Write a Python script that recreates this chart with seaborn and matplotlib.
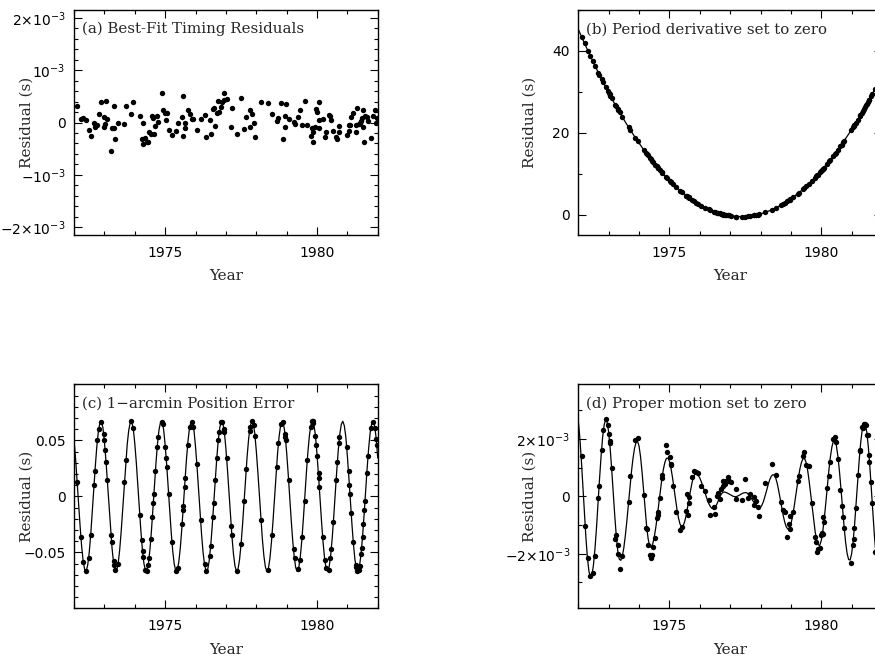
import numpy as np
import matplotlib
matplotlib.use('Agg')
import matplotlib.pyplot as plt
import seaborn as sns
from matplotlib.ticker import MultipleLocator, FixedLocator, FixedFormatter

# observation epochs (decimal year), same TOAs in all four panels
obs_year = [
    1972.11, 1972.23, 1972.31, 1972.40, 1972.48, 1972.55, 1972.66, 1972.69, 1972.77, 1972.81,
    1972.90, 1972.98, 1973.00, 1973.03, 1973.06, 1973.10, 1973.22, 1973.24, 1973.30, 1973.32,
    1973.36, 1973.45, 1973.66, 1973.71, 1973.88, 1973.95, 1974.17, 1974.23, 1974.26, 1974.28,
    1974.35, 1974.39, 1974.44, 1974.47, 1974.53, 1974.58, 1974.61, 1974.63, 1974.68, 1974.74,
    1974.77, 1974.89, 1974.92, 1975.01, 1975.04, 1975.06, 1975.12, 1975.23, 1975.36, 1975.42,
    1975.56, 1975.59, 1975.60, 1975.64, 1975.66, 1975.74, 1975.81, 1975.89, 1975.93, 1976.05,
    1976.17, 1976.30, 1976.35, 1976.47, 1976.50, 1976.57, 1976.60, 1976.65, 1976.70, 1976.75,
    1976.78, 1976.84, 1976.88, 1976.94, 1976.95, 1977.03, 1977.18, 1977.20, 1977.38, 1977.50,
    1977.60, 1977.67, 1977.78, 1977.80, 1977.85, 1977.91, 1977.96, 1978.16, 1978.38, 1978.52,
    1978.67, 1978.73, 1978.81, 1978.87, 1978.95, 1978.96, 1978.97, 1979.07, 1979.23, 1979.26,
    1979.39, 1979.44, 1979.51, 1979.59, 1979.68, 1979.79, 1979.84, 1979.86, 1979.88, 1979.95,
    1979.98, 1980.01, 1980.05, 1980.06, 1980.08, 1980.19, 1980.26, 1980.30, 1980.38, 1980.44,
    1980.47, 1980.54, 1980.63, 1980.67, 1980.72, 1980.74, 1980.98, 1981.04, 1981.07, 1981.09,
    1981.13, 1981.20, 1981.28, 1981.29, 1981.33, 1981.37, 1981.40, 1981.45, 1981.47, 1981.50,
    1981.53, 1981.56, 1981.58, 1981.64, 1981.68, 1981.77, 1981.86, 1981.91, 1981.95, 1981.97,
]

# (a) best-fit residuals, in ms
res_a_ms = [
    0.31, 0.06, 0.08, 0.05, -0.15, -0.25, 0.00, -0.08, -0.04, 0.17,
    0.39, 0.10, -0.08, -0.03, 0.42, 0.06, -0.54, -0.10, -0.10, 0.32,
    -0.32, 0.00, -0.03, 0.31, 0.17, 0.40, 0.12, -0.32, -0.01, -0.41,
    -0.30, -0.38, -0.38, -0.19, -0.21, 0.12, 0.08, -0.22, -0.06, 0.13,
    0.01, 0.57, 0.23, 0.19, 0.04, 0.19, -0.15, -0.23, -0.17, -0.01,
    0.10, 0.51, -0.26, -0.10, -0.01, 0.24, 0.17, 0.06, 0.06, -0.15,
    0.06, 0.14, -0.28, 0.04, -0.22, 0.26, 0.28, -0.06, 0.18, 0.41,
    0.21, 0.29, 0.40, 0.56, 0.44, 0.45, -0.08, 0.28, -0.21, 0.46,
    -0.12, 0.10, -0.08, 0.23, 0.16, -0.01, -0.28, 0.40, 0.38, 0.17,
    0.02, 0.08, 0.38, -0.32, 0.13, -0.08, 0.35, 0.06, 0.01, -0.03,
    0.10, 0.24, -0.05, 0.42, -0.04, -0.26, -0.11, -0.38, -0.19, -0.08,
    0.26, 0.21, -0.10, 0.40, 0.05, 0.06, -0.27, -0.19, 0.14, 0.12,
    0.04, -0.16, -0.28, -0.31, -0.06, -0.19, -0.24, -0.04, -0.17, -0.04,
    0.11, 0.19, -0.04, -0.18, 0.27, -0.03, -0.01, 0.02, 0.08, -0.08,
    0.23, -0.38, 0.13, 0.10, 0.02, -0.30, 0.12, 0.24, -0.01, 0.08,
]

# (b) period derivative set to zero, in s
res_b_s = [
    43.4, 41.9, 40.1, 38.7, 37.5, 36.4, 34.7, 34.2, 33.1, 32.5,
    31.2, 30.1, 29.8, 29.4, 29.0, 28.4, 26.8, 26.5, 25.7, 25.5,
    25.0, 23.8, 21.3, 20.7, 18.8, 18.0, 15.7, 15.1, 14.8, 14.6,
    13.9, 13.5, 13.1, 12.8, 12.2, 11.8, 11.5, 11.3, 10.9, 10.4,
    10.2, 9.2, 8.9, 8.3, 8.0, 7.9, 7.5, 6.7, 5.8, 5.5,
    4.6, 4.5, 4.4, 4.2, 4.1, 3.6, 3.3, 2.9, 2.7, 2.2,
    1.7, 1.3, 1.1, 0.7, 0.7, 0.5, 0.4, 0.3, 0.2, 0.1,
    0.0, -0.1, -0.1, -0.2, -0.2, -0.3, -0.5, -0.5, -0.5, -0.5,
    -0.4, -0.3, -0.2, -0.2, -0.1, 0.0, 0.1, 0.6, 1.2, 1.7,
    2.3, 2.5, 2.9, 3.2, 3.6, 3.6, 3.7, 4.2, 5.1, 5.3,
    6.2, 6.5, 7.0, 7.5, 8.2, 9.0, 9.4, 9.6, 9.7, 10.3,
    10.6, 10.8, 11.2, 11.2, 11.4, 12.4, 13.1, 13.4, 14.2, 14.8,
    15.1, 15.8, 16.7, 17.1, 17.7, 17.9, 20.6, 21.3, 21.6, 21.9,
    22.4, 23.2, 24.2, 24.3, 24.8, 25.4, 25.7, 26.4, 26.7, 27.1,
    27.5, 27.9, 28.1, 29.0, 29.5, 30.8, 32.0, 32.8, 33.4, 33.6,
]

# (c) 1-arcmin position error, in s
res_c_s = [
    0.0126, -0.0359, -0.0587, -0.0667, -0.0554, -0.0341, 0.0105, 0.0227, 0.0503, 0.0597,
    0.0667, 0.0554, 0.0503, 0.0411, 0.0304, 0.0146, -0.0341, -0.0411, -0.0577, -0.0615,
    -0.0662, -0.0606, 0.0126, 0.0323, 0.0670, 0.0606, -0.0167, -0.0394, -0.0488, -0.0542,
    -0.0658, -0.0667, -0.0615, -0.0554, -0.0377, -0.0187, -0.0063, 0.0021, 0.0227, 0.0443,
    0.0529, 0.0667, 0.0643, 0.0443, 0.0341, 0.0266, 0.0021, -0.0411, -0.0667, -0.0637,
    -0.0247, -0.0126, -0.0084, 0.0084, 0.0167, 0.0459, 0.0623, 0.0665, 0.0623, 0.0285,
    -0.0207, -0.0606, -0.0665, -0.0529, -0.0443, -0.0187, -0.0063, 0.0146, 0.0341, 0.0503,
    0.0577, 0.0662, 0.0667, 0.0597, 0.0577, 0.0341, -0.0266, -0.0341, -0.0665, -0.0427,
    -0.0042, 0.0247, 0.0587, 0.0623, 0.0670, 0.0637, 0.0542, -0.0207, -0.0662, -0.0341,
    0.0266, 0.0474, 0.0643, 0.0667, 0.0554, 0.0529, 0.0503, 0.0146, -0.0474, -0.0554,
    -0.0649, -0.0566, -0.0359, -0.0042, 0.0323, 0.0623, 0.0670, 0.0670, 0.0658, 0.0542,
    0.0459, 0.0359, 0.0207, 0.0167, 0.0084, -0.0359, -0.0566, -0.0637, -0.0654, -0.0554,
    -0.0474, -0.0227, 0.0146, 0.0304, 0.0474, 0.0529, 0.0443, 0.0227, 0.0105, 0.0021,
    -0.0146, -0.0411, -0.0615, -0.0633, -0.0670, -0.0658, -0.0623, -0.0516, -0.0459, -0.0359,
    -0.0247, -0.0126, -0.0042, 0.0207, 0.0359, 0.0606, 0.0665, 0.0606, 0.0516, 0.0459,
]

# (d) proper motion set to zero, in ms
res_d_ms = [
    1.40, -1.02, -2.15, -2.76, -2.68, -2.07, -0.07, 0.36, 1.61, 2.30,
    2.70, 2.48, 2.16, 1.87, 1.94, 1.00, -1.48, -1.33, -2.00, -1.70,
    -2.52, -2.08, -0.19, 0.72, 1.96, 2.02, 0.06, -1.12, -1.14, -1.71,
    -2.04, -2.14, -2.06, -1.76, -1.44, -0.74, -0.53, -0.66, -0.06, 0.64,
    0.74, 1.78, 1.55, 1.36, 1.08, 1.12, 0.37, -0.54, -1.16, -1.06,
    -0.51, 0.07, -0.64, -0.23, -0.02, 0.69, 0.88, 0.84, 0.81, 0.36,
    0.19, -0.12, -0.64, -0.37, -0.61, 0.01, 0.10, -0.11, 0.24, 0.54,
    0.35, 0.43, 0.53, 0.66, 0.53, 0.49, -0.09, 0.27, -0.12, 0.59,
    -0.05, 0.08, -0.29, -0.01, -0.15, -0.38, -0.67, 0.45, 1.11, 0.73,
    -0.20, -0.49, -0.56, -1.42, -0.97, -1.15, -0.69, -0.54, 0.54, 0.70,
    1.39, 1.56, 1.08, 1.04, -0.24, -1.42, -1.58, -1.94, -1.82, -1.79,
    -1.35, -1.27, -1.32, -0.73, -0.90, 0.29, 0.72, 1.18, 1.98, 2.05,
    1.90, 1.29, 0.21, -0.32, -0.72, -1.10, -2.33, -1.70, -1.49, -1.11,
    -0.40, 0.73, 1.60, 1.59, 2.42, 2.38, 2.53, 2.53, 2.48, 2.15,
    2.15, 1.20, 1.44, 0.50, -0.24, -1.93, -2.43, -2.48, -2.71, -2.50,
]

# model curves, every 0.05 yr
fit_year = [
    1972.00, 1972.05, 1972.10, 1972.15, 1972.20, 1972.25, 1972.30, 1972.35, 1972.40, 1972.45,
    1972.50, 1972.55, 1972.60, 1972.65, 1972.70, 1972.75, 1972.80, 1972.85, 1972.90, 1972.95,
    1973.00, 1973.05, 1973.10, 1973.15, 1973.20, 1973.25, 1973.30, 1973.35, 1973.40, 1973.45,
    1973.50, 1973.55, 1973.60, 1973.65, 1973.70, 1973.75, 1973.80, 1973.85, 1973.90, 1973.95,
    1974.00, 1974.05, 1974.10, 1974.15, 1974.20, 1974.25, 1974.30, 1974.35, 1974.40, 1974.45,
    1974.50, 1974.55, 1974.60, 1974.65, 1974.70, 1974.75, 1974.80, 1974.85, 1974.90, 1974.95,
    1975.00, 1975.05, 1975.10, 1975.15, 1975.20, 1975.25, 1975.30, 1975.35, 1975.40, 1975.45,
    1975.50, 1975.55, 1975.60, 1975.65, 1975.70, 1975.75, 1975.80, 1975.85, 1975.90, 1975.95,
    1976.00, 1976.05, 1976.10, 1976.15, 1976.20, 1976.25, 1976.30, 1976.35, 1976.40, 1976.45,
    1976.50, 1976.55, 1976.60, 1976.65, 1976.70, 1976.75, 1976.80, 1976.85, 1976.90, 1976.95,
    1977.00, 1977.05, 1977.10, 1977.15, 1977.20, 1977.25, 1977.30, 1977.35, 1977.40, 1977.45,
    1977.50, 1977.55, 1977.60, 1977.65, 1977.70, 1977.75, 1977.80, 1977.85, 1977.90, 1977.95,
    1978.00, 1978.05, 1978.10, 1978.15, 1978.20, 1978.25, 1978.30, 1978.35, 1978.40, 1978.45,
    1978.50, 1978.55, 1978.60, 1978.65, 1978.70, 1978.75, 1978.80, 1978.85, 1978.90, 1978.95,
    1979.00, 1979.05, 1979.10, 1979.15, 1979.20, 1979.25, 1979.30, 1979.35, 1979.40, 1979.45,
    1979.50, 1979.55, 1979.60, 1979.65, 1979.70, 1979.75, 1979.80, 1979.85, 1979.90, 1979.95,
    1980.00, 1980.05, 1980.10, 1980.15, 1980.20, 1980.25, 1980.30, 1980.35, 1980.40, 1980.45,
    1980.50, 1980.55, 1980.60, 1980.65, 1980.70, 1980.75, 1980.80, 1980.85, 1980.90, 1980.95,
    1981.00, 1981.05, 1981.10, 1981.15, 1981.20, 1981.25, 1981.30, 1981.35, 1981.40, 1981.45,
    1981.50, 1981.55, 1981.60, 1981.65, 1981.70, 1981.75, 1981.80, 1981.85, 1981.90, 1981.95,
    1982.00,
]

fit_b_s = [
    45.30, 44.44, 43.60, 42.76, 41.94, 41.12, 40.30, 39.50, 38.70, 37.92,
    37.14, 36.36, 35.60, 34.84, 34.10, 33.36, 32.62, 31.90, 31.18, 30.48,
    29.78, 29.08, 28.40, 27.72, 27.06, 26.40, 25.74, 25.10, 24.46, 23.84,
    23.22, 22.60, 22.00, 21.40, 20.82, 20.24, 19.66, 19.10, 18.54, 18.00,
    17.46, 16.92, 16.40, 15.88, 15.38, 14.88, 14.38, 13.90, 13.42, 12.96,
    12.50, 12.04, 11.60, 11.16, 10.74, 10.32, 9.90, 9.50, 9.10, 8.72,
    8.34, 7.96, 7.60, 7.24, 6.90, 6.56, 6.22, 5.90, 5.58, 5.28,
    4.98, 4.68, 4.40, 4.12, 3.86, 3.60, 3.34, 3.10, 2.86, 2.64,
    2.42, 2.20, 2.00, 1.80, 1.62, 1.44, 1.26, 1.10, 0.94, 0.80,
    0.66, 0.52, 0.40, 0.28, 0.18, 0.08, -0.02, -0.10, -0.18, -0.24,
    -0.30, -0.36, -0.40, -0.44, -0.46, -0.48, -0.50, -0.50, -0.50, -0.48,
    -0.46, -0.44, -0.40, -0.36, -0.30, -0.24, -0.18, -0.10, -0.02, 0.08,
    0.18, 0.28, 0.40, 0.52, 0.66, 0.80, 0.94, 1.10, 1.26, 1.44,
    1.62, 1.80, 2.00, 2.20, 2.42, 2.64, 2.86, 3.10, 3.34, 3.60,
    3.86, 4.12, 4.40, 4.68, 4.98, 5.28, 5.58, 5.90, 6.22, 6.56,
    6.90, 7.24, 7.60, 7.96, 8.34, 8.72, 9.10, 9.50, 9.90, 10.32,
    10.74, 11.16, 11.60, 12.04, 12.50, 12.96, 13.42, 13.90, 14.38, 14.88,
    15.38, 15.88, 16.40, 16.92, 17.46, 18.00, 18.54, 19.10, 19.66, 20.24,
    20.82, 21.40, 22.00, 22.60, 23.22, 23.84, 24.46, 25.10, 25.74, 26.40,
    27.06, 27.72, 28.40, 29.08, 29.78, 30.48, 31.18, 31.90, 32.62, 33.36,
    34.10,
]

fit_c_s = [
    0.0503, 0.0341, 0.0146, -0.0063, -0.0266, -0.0443, -0.0577, -0.0654, -0.0667, -0.0615,
    -0.0503, -0.0341, -0.0146, 0.0063, 0.0266, 0.0443, 0.0577, 0.0654, 0.0667, 0.0615,
    0.0488, 0.0323, 0.0125, -0.0084, -0.0285, -0.0459, -0.0587, -0.0658, -0.0665, -0.0606,
    -0.0488, -0.0323, -0.0125, 0.0084, 0.0285, 0.0459, 0.0587, 0.0658, 0.0665, 0.0606,
    0.0474, 0.0304, 0.0105, -0.0105, -0.0304, -0.0474, -0.0597, -0.0662, -0.0662, -0.0597,
    -0.0474, -0.0304, -0.0105, 0.0105, 0.0304, 0.0474, 0.0597, 0.0662, 0.0662, 0.0597,
    0.0459, 0.0285, 0.0084, -0.0125, -0.0323, -0.0488, -0.0606, -0.0665, -0.0658, -0.0587,
    -0.0459, -0.0285, -0.0084, 0.0125, 0.0323, 0.0488, 0.0606, 0.0665, 0.0658, 0.0587,
    0.0443, 0.0266, 0.0063, -0.0146, -0.0341, -0.0503, -0.0615, -0.0667, -0.0654, -0.0577,
    -0.0443, -0.0266, -0.0063, 0.0146, 0.0341, 0.0503, 0.0615, 0.0667, 0.0654, 0.0577,
    0.0427, 0.0247, 0.0042, -0.0167, -0.0359, -0.0516, -0.0623, -0.0669, -0.0649, -0.0566,
    -0.0427, -0.0247, -0.0042, 0.0167, 0.0359, 0.0516, 0.0623, 0.0669, 0.0649, 0.0566,
    0.0411, 0.0227, 0.0021, -0.0187, -0.0377, -0.0529, -0.0630, -0.0670, -0.0643, -0.0554,
    -0.0411, -0.0227, -0.0021, 0.0187, 0.0377, 0.0529, 0.0630, 0.0670, 0.0643, 0.0554,
    0.0394, 0.0207, 0.0000, -0.0207, -0.0394, -0.0542, -0.0637, -0.0670, -0.0637, -0.0542,
    -0.0394, -0.0207, 0.0000, 0.0207, 0.0394, 0.0542, 0.0637, 0.0670, 0.0637, 0.0542,
    0.0377, 0.0187, -0.0021, -0.0227, -0.0411, -0.0554, -0.0643, -0.0670, -0.0630, -0.0529,
    -0.0377, -0.0187, 0.0021, 0.0227, 0.0411, 0.0554, 0.0643, 0.0670, 0.0630, 0.0529,
    0.0359, 0.0167, -0.0042, -0.0247, -0.0427, -0.0566, -0.0649, -0.0669, -0.0623, -0.0516,
    -0.0359, -0.0167, 0.0042, 0.0247, 0.0427, 0.0566, 0.0649, 0.0669, 0.0623, 0.0516,
    0.0341,
]

fit_d_ms = [
    2.63, 2.05, 1.27, 0.37, -0.56, -1.42, -2.13, -2.61, -2.81, -2.73,
    -2.39, -1.82, -1.09, -0.24, 0.61, 1.39, 2.04, 2.48, 2.67, 2.58,
    2.24, 1.67, 0.94, 0.13, -0.66, -1.37, -1.90, -2.19, -2.23, -2.08,
    -1.79, -1.36, -0.85, -0.28, 0.30, 0.85, 1.31, 1.66, 1.87, 1.92,
    1.75, 1.38, 0.84, 0.20, -0.45, -1.04, -1.48, -1.74, -1.77, -1.66,
    -1.43, -1.10, -0.70, -0.26, 0.18, 0.59, 0.93, 1.18, 1.32, 1.33,
    1.22, 0.99, 0.67, 0.30, -0.09, -0.46, -0.76, -0.97, -1.06, -1.03,
    -0.89, -0.67, -0.38, -0.07, 0.23, 0.50, 0.69, 0.78, 0.78, 0.73,
    0.64, 0.51, 0.36, 0.20, 0.03, -0.13, -0.26, -0.36, -0.42, -0.43,
    -0.39, -0.30, -0.18, -0.05, 0.06, 0.13, 0.15, 0.14, 0.12, 0.09,
    0.06, 0.03, 0.00, -0.01, -0.01, 0.01, 0.04, 0.07, 0.10, 0.12,
    0.13, 0.12, 0.07, 0.01, -0.07, -0.16, -0.24, -0.31, -0.36, -0.39,
    -0.38, -0.30, -0.17, 0.01, 0.20, 0.40, 0.57, 0.69, 0.75, 0.74,
    0.64, 0.45, 0.19, -0.10, -0.40, -0.68, -0.91, -1.07, -1.14, -1.10,
    -0.96, -0.73, -0.41, -0.05, 0.32, 0.67, 0.97, 1.19, 1.31, 1.32,
    1.18, 0.92, 0.54, 0.09, -0.39, -0.84, -1.24, -1.53, -1.69, -1.71,
    -1.54, -1.22, -0.77, -0.23, 0.35, 0.90, 1.37, 1.72, 1.92, 1.93,
    1.75, 1.38, 0.86, 0.25, -0.41, -1.04, -1.58, -1.98, -2.20, -2.22,
    -2.00, -1.57, -0.95, -0.22, 0.54, 1.27, 1.89, 2.32, 2.54, 2.51,
    2.23, 1.72, 1.04, 0.24, -0.59, -1.37, -2.03, -2.50, -2.73, -2.70,
    -2.40,
]

panel_titles = ['(a) Best-Fit Timing Residuals', '(b) Period derivative set to zero',
                '(c) 1\u2212arcmin Position Error', '(d) Proper motion set to zero']

sns.set_style('ticks')
plt.rcParams['font.family'] = ['DejaVu Sans']
plt.rcParams['mathtext.fontset'] = 'dejavusans'
SERIF = ['DejaVu Serif']

fig = plt.figure(figsize=(8.75, 6.6), dpi=100)

# axes placed in pixel-derived figure fractions; right column runs off the page
ax_a = fig.add_axes([0.0846, 0.6439, 0.3471, 0.3409])
ax_b = fig.add_axes([0.6609, 0.6439, 0.3471, 0.3409])
ax_c = fig.add_axes([0.0846, 0.0783, 0.3471, 0.3394])
ax_d = fig.add_axes([0.6609, 0.0783, 0.3471, 0.3394])

res_a = np.array(res_a_ms) * 1e-3
res_d = np.array(res_d_ms) * 1e-3
fit_d = np.array(fit_d_ms) * 1e-3

# dots
for ax, y in [(ax_a, res_a), (ax_b, res_b_s), (ax_c, res_c_s), (ax_d, res_d)]:
    sns.scatterplot(x=obs_year, y=y, ax=ax, color='black', s=15,
                    linewidth=0, legend=False, zorder=3)

# model curves
for ax, y in [(ax_b, fit_b_s), (ax_c, fit_c_s), (ax_d, fit_d)]:
    sns.lineplot(x=fit_year, y=y, ax=ax, color='black', linewidth=0.9,
                 estimator=None, sort=False, zorder=2)

# y axis setup per panel
yspec = {
    ax_a: ((-2.15e-3, 2.15e-3), [-2e-3, -1e-3, 0, 1e-3, 2e-3],
           [r'$-2{\times}10^{-3}$', r'$-10^{-3}$', '0', r'$10^{-3}$', r'$2{\times}10^{-3}$'], 2e-4),
    ax_b: ((-5, 50), [0, 20, 40], ['0', '20', '40'], 10),
    ax_c: ((-0.1, 0.1), [-0.05, 0, 0.05], ['\u22120.05', '0', '0.05'], 0.01),
    ax_d: ((-3.9e-3, 3.9e-3), [-2e-3, 0, 2e-3],
           [r'$-2{\times}10^{-3}$', '0', r'$2{\times}10^{-3}$'], 1e-3),
}

for ax, title in zip([ax_a, ax_b, ax_c, ax_d], panel_titles):
    ylim, yt, ylab, yminor = yspec[ax]
    ax.set_xlim(1972, 1982)
    ax.set_ylim(*ylim)
    ax.xaxis.set_major_locator(FixedLocator([1975, 1980]))
    ax.xaxis.set_major_formatter(FixedFormatter(['1975', '1980']))
    ax.xaxis.set_minor_locator(MultipleLocator(1))
    ax.yaxis.set_major_locator(FixedLocator(yt))
    ax.yaxis.set_major_formatter(FixedFormatter(ylab))
    ax.yaxis.set_minor_locator(MultipleLocator(yminor))
    ax.tick_params(which='both', direction='in', top=True, right=True,
                   width=0.8, colors='black', labelsize=10)
    ax.tick_params(which='major', length=5.5)
    ax.tick_params(which='minor', length=3)
    ax.tick_params(axis='x', which='major', pad=8)
    ax.tick_params(axis='y', which='major', pad=6)
    for sp in ax.spines.values():
        sp.set_linewidth(1.0)
        sp.set_color('black')
    ax.set_xlabel('Year', fontfamily=SERIF, fontsize=11, va='center')
    ax.set_ylabel('Residual (s)', fontfamily=SERIF, fontsize=11, va='center')
    ax.text(0.027, 0.915, title, transform=ax.transAxes, fontfamily=SERIF,
            fontsize=10.8, va='center', ha='left')

for ax in [ax_a, ax_b]:
    ax.xaxis.set_label_coords(0.5, -0.182)
for ax in [ax_c, ax_d]:
    ax.xaxis.set_label_coords(0.5, -0.186)
for ax in [ax_a, ax_c]:
    ax.yaxis.set_label_coords(-0.156, 0.5)
for ax in [ax_b, ax_d]:
    ax.yaxis.set_label_coords(-0.159, 0.5)

fig.savefig('out.png', dpi=100)
